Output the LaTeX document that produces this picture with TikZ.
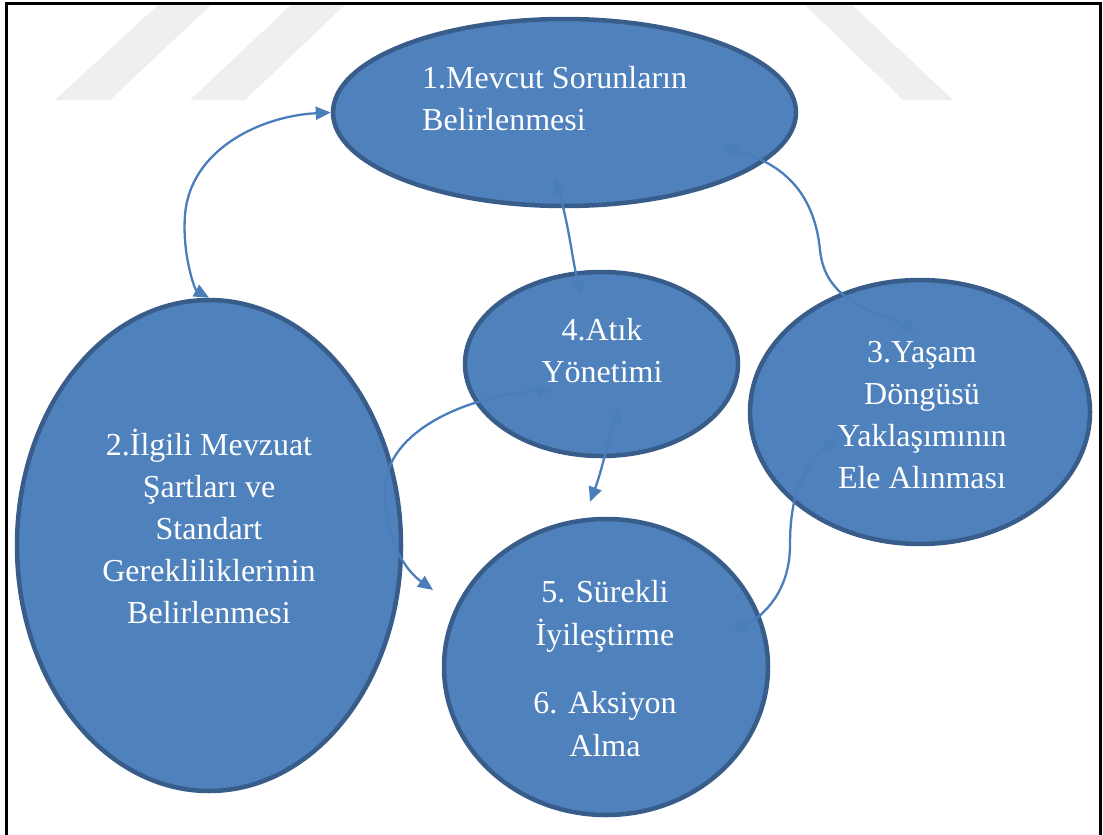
\documentclass[tikz,border=0pt]{standalone}
\usepackage{fontspec}
\setmainfont{Liberation Serif}
\usetikzlibrary{arrows.meta,shapes.geometric}
\definecolor{fillblue}{HTML}{4F81BD}
\definecolor{edgeblue}{HTML}{385D8A}
\definecolor{arrowblue}{HTML}{4A7EBB}
\definecolor{wm}{HTML}{EFEFEF}
\begin{document}
\begin{tikzpicture}[x=1pt,y=-1pt,
  blob/.style={ellipse, draw=edgeblue, fill=fillblue, line width=4.5pt, inner sep=0pt},
  lbl/.style={text=white, font=\fontsize{32}{42}\selectfont, anchor=base, inner sep=0pt},
  lblw/.style={lbl, anchor=base west},
  link/.style={draw=arrowblue, line width=2.3pt, {Triangle[length=15pt,width=13pt]}-{Triangle[length=15pt,width=13pt]}},
  wmark/.style={fill=wm, draw=none},
  frame/.style={draw=black, line width=3pt}]
\useasboundingbox (0,0) rectangle (1103,835);
% watermark
\fill[wmark] (55,100) -- (110,100) -- (213,3) -- (160,3) -- cycle;
\fill[wmark] (190,100) -- (245,100) -- (347,3) -- (293,3) -- cycle;
\fill[wmark] (803,3) -- (850,3) -- (953,100) -- (903,100) -- cycle;
% frame
\draw[frame] (6,835) -- (6,3.5) -- (1100,3.5) -- (1100,835);
% ellipses
\node[blob, minimum width=463pt, minimum height=187pt] (e1) at (564.5,112.5) {};
\node[blob, minimum width=384pt, minimum height=491pt] (e2) at (209,545.5) {};
\node[blob, minimum width=340pt, minimum height=264pt] (e3) at (920,412) {};
\node[blob, minimum width=273pt, minimum height=184pt] (e4) at (601.5,364) {};
\node[blob, minimum width=324pt, minimum height=296pt] (e5) at (606,667) {};
% labels
\node[lblw] (t1a) at (422,88) {1.Mevcut Sorunların};
\node[lblw] (t1b) at (422,130) {Belirlenmesi};
\foreach \txt [count=\i] in {2.İlgili Mevzuat, Şartları ve, Standart, Gerekliliklerinin, Belirlenmesi}
  \node[lbl] (t2-\i) at (209,{455+42*(\i-1)}) {\txt};
\foreach \txt [count=\i] in {3.Yaşam, Döngüsü, Yaklaşımının, Ele Alınması}
  \node[lbl] (t3-\i) at (922,{362+42*(\i-1)}) {\txt};
\node[lbl] (t4a) at (602,340) {4.Atık};
\node[lbl] (t4b) at (602,382) {Yönetimi};
\node[lbl] (t5a) at (605,602) {5. Sürekli};
\node[lbl] (t5b) at (605,645) {İyileştirme};
\node[lbl] (t6a) at (605,713) {6. Aksiyon};
\node[lbl] (t6b) at (605,756) {Alma};
% connectors
\draw[link] (e1.west) .. controls (260,116) and (190,150) .. (185,215)
  .. controls (182,255) and (195,290) .. (e2.north);
\draw[link] ([shift={(-9.5,65.5)}]e1.center) .. controls (570,230) and (572,260) .. ([shift={(-19.5,-67)}]e4.center);
\draw[link] ([shift={(157.5,34.5)}]e1.center) .. controls (790,165) and (815,200) .. (820,250)
  .. controls (825,300) and (870,310) .. ([shift={(-3,-82)}]e3.center);
\draw[link] ([shift={(18.5,44)}]e4.center) .. controls (608,440) and (602,470) .. ([shift={(-16,-165)}]e5.center);
\draw[link] ([shift={(-48.5,26)}]e4.center) .. controls (470,395) and (385,430) .. (385,490)
  .. controls (385,540) and (405,570) .. ([shift={(-173,-77)}]e5.center);
\draw[link] ([shift={(-83,25)}]e3.center) .. controls (800,470) and (790,500) .. (790,545)
  .. controls (790,590) and (765,615) .. ([shift={(126,-34)}]e5.center);
\end{tikzpicture}
\end{document}
